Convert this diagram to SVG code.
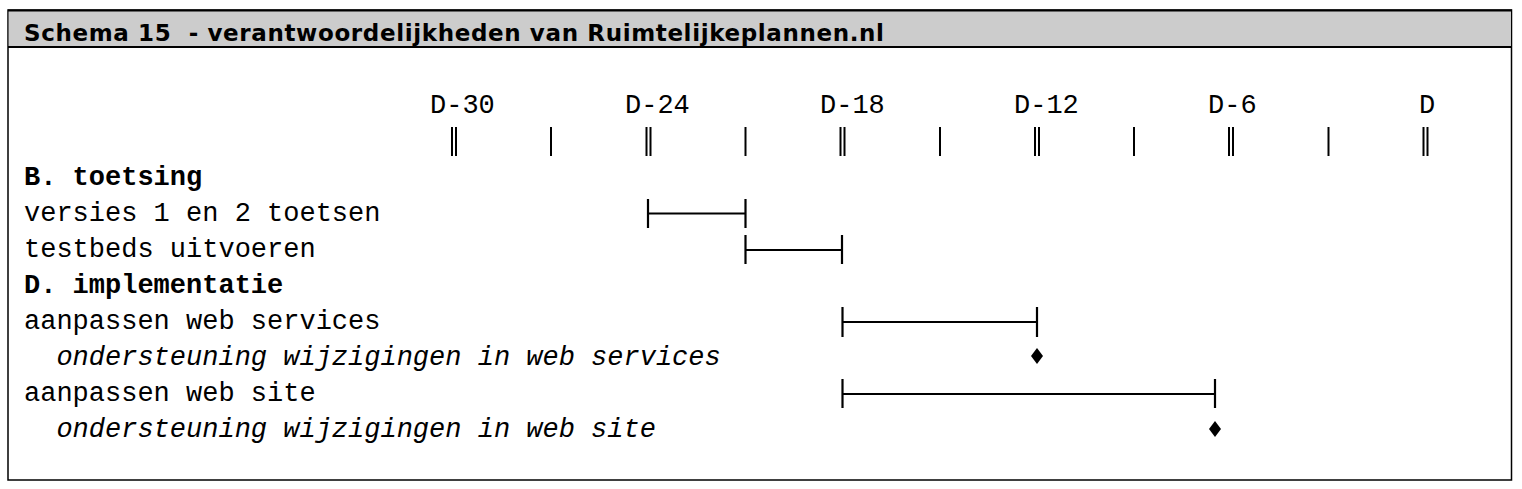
<svg xmlns="http://www.w3.org/2000/svg" width="1522" height="489" viewBox="0 0 1522 489">
<style>
.title{font-family:"DejaVu Sans",Verdana,sans-serif;font-weight:bold;font-size:23px;fill:#000;white-space:pre}
.mono{font-family:"Liberation Mono","Courier New",monospace;font-size:27px;fill:#000;white-space:pre}
.b{font-weight:bold}
.i{font-style:italic}
.tick{stroke:#000;stroke-width:2}
.bar{stroke:#000;stroke-width:2.2;fill:none}
.dia{fill:#000}
</style>
<rect x="8" y="10" width="1503.5" height="470" fill="#fff" stroke="#000" stroke-width="1.5"/>
<rect x="8.75" y="10.75" width="1502" height="36" fill="#cccccc"/>
<line x1="8" y1="10.5" x2="1512" y2="10.5" stroke="#000" stroke-width="2"/>
<line x1="8" y1="47" x2="1512" y2="47" stroke="#000" stroke-width="2"/>
<text class="title" x="24" y="41" textLength="860" lengthAdjust="spacing">Schema 15  - verantwoordelijkheden van Ruimtelijkeplannen.nl</text>
<g id="timeline">
<text class="mono" x="430" y="113">D-30</text>
<text class="mono" x="625" y="113">D-24</text>
<text class="mono" x="820" y="113">D-18</text>
<text class="mono" x="1014" y="113">D-12</text>
<text class="mono" x="1208" y="113">D-6</text>
<text class="mono" x="1419" y="113">D</text>
<g class="tick">
<line x1="452" y1="127" x2="452" y2="156"/><line x1="456" y1="127" x2="456" y2="156"/>
<line x1="551" y1="127" x2="551" y2="156"/>
<line x1="646.5" y1="127" x2="646.5" y2="156"/><line x1="650.5" y1="127" x2="650.5" y2="156"/>
<line x1="745.5" y1="127" x2="745.5" y2="156"/>
<line x1="840.5" y1="127" x2="840.5" y2="156"/><line x1="844.5" y1="127" x2="844.5" y2="156"/>
<line x1="940" y1="127" x2="940" y2="156"/>
<line x1="1035" y1="127" x2="1035" y2="156"/><line x1="1039" y1="127" x2="1039" y2="156"/>
<line x1="1134" y1="127" x2="1134" y2="156"/>
<line x1="1229" y1="127" x2="1229" y2="156"/><line x1="1233" y1="127" x2="1233" y2="156"/>
<line x1="1328.5" y1="127" x2="1328.5" y2="156"/>
<line x1="1423.5" y1="127" x2="1423.5" y2="156"/><line x1="1427.5" y1="127" x2="1427.5" y2="156"/>
</g>
</g>
<g id="labels">
<text class="mono b" x="24" y="185">B. toetsing</text>
<text class="mono" x="24" y="221">versies 1 en 2 toetsen</text>
<text class="mono" x="24" y="257">testbeds uitvoeren</text>
<text class="mono b" x="24" y="293">D. implementatie</text>
<text class="mono" x="24" y="329">aanpassen web services</text>
<text class="mono i" x="24" y="365">  ondersteuning wijzigingen in web services</text>
<text class="mono" x="24" y="401">aanpassen web site</text>
<text class="mono i" x="24" y="437">  ondersteuning wijzigingen in web site</text>
</g>
<g id="connectors">
<g id="bar-versies" class="bar"><path d="M648 199V228M648 213.5H745.5M745.5 199V228"/></g>
<g id="bar-testbeds" class="bar"><path d="M745.5 235V264M745.5 250H842M842 235V264"/></g>
<g id="bar-webservices" class="bar"><path d="M842.5 307V337M842.5 322H1037M1037 307V337"/></g>
<g id="bar-website" class="bar"><path d="M842.5 379V408M842.5 394H1215M1215 379V408"/></g>
</g>
<g id="milestone-webservices"><path class="dia" d="M1037 348L1043 356L1037 364L1031 356Z"/></g>
<g id="milestone-website"><path class="dia" d="M1215 421L1221 429L1215 437L1209 429Z"/></g>
</svg>
